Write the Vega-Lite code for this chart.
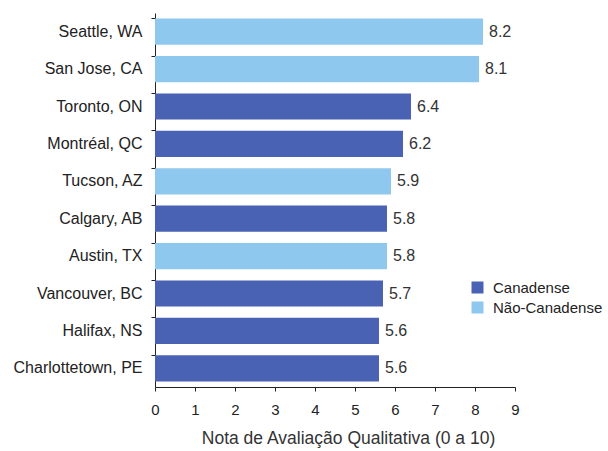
{
  "$schema": "https://vega.github.io/schema/vega-lite/v6.json",
  "width": 360,
  "height": 374,
  "autosize": {"type": "none"},
  "padding": {"left": 155, "top": 13, "right": 93, "bottom": 64},
  "background": "white",
  "config": {
    "view": {"stroke": null},
    "font": "Liberation Sans",
    "axis": {"labelFont": "Liberation Sans", "titleFont": "Liberation Sans", "labelColor": "#222", "titleColor": "#333", "domainColor": "#222", "tickColor": "#222", "grid": false},
    "legend": {"labelFont": "Liberation Sans"}
  },
  "data": {
    "values": [
      {"cidade": "Seattle, WA", "nota": 8.2, "tipo": "Não-Canadense"},
      {"cidade": "San Jose, CA", "nota": 8.1, "tipo": "Não-Canadense"},
      {"cidade": "Toronto, ON", "nota": 6.4, "tipo": "Canadense"},
      {"cidade": "Montréal, QC", "nota": 6.2, "tipo": "Canadense"},
      {"cidade": "Tucson, AZ", "nota": 5.9, "tipo": "Não-Canadense"},
      {"cidade": "Calgary, AB", "nota": 5.8, "tipo": "Canadense"},
      {"cidade": "Austin, TX", "nota": 5.8, "tipo": "Não-Canadense"},
      {"cidade": "Vancouver, BC", "nota": 5.7, "tipo": "Canadense"},
      {"cidade": "Halifax, NS", "nota": 5.6, "tipo": "Canadense"},
      {"cidade": "Charlottetown, PE", "nota": 5.6, "tipo": "Canadense"}
    ]
  },
  "encoding": {
    "y": {
      "field": "cidade", "type": "nominal", "sort": null,
      "scale": {"paddingInner": 0.3, "paddingOuter": 0.15},
      "axis": {"title": null, "labelFontSize": 16, "labelPadding": 9, "tickSize": 4, "bandPosition": 0, "labelColor": "#222"}
    },
    "x": {
      "field": "nota", "type": "quantitative",
      "scale": {"domain": [0, 9], "nice": false},
      "axis": {"title": "Nota de Avaliação Qualitativa (0 a 10)", "titleFontSize": 17.5, "titleFontWeight": "normal", "titlePadding": 12, "titleX": 193, "labelFontSize": 15, "labelPadding": 11, "values": [0,1,2,3,4,5,6,7,8,9], "labelOverlap": false, "labelFlush": false, "tickSize": 4}
    }
  },
  "layer": [
    {
      "mark": {"type": "bar"},
      "encoding": {
        "color": {
          "field": "tipo", "type": "nominal",
          "scale": {"domain": ["Canadense", "Não-Canadense"], "range": ["#4a62b4", "#8fc8ee"]},
          "legend": {"title": null, "orient": "none", "legendX": 315, "legendY": 267, "symbolType": "square", "symbolSize": 144, "symbolStrokeWidth": 0, "labelFontSize": 15, "labelColor": "#222", "rowPadding": 4, "labelOffset": 8}
        }
      }
    },
    {
      "mark": {"type": "text", "align": "left", "dx": 6, "fontSize": 16, "color": "#333"},
      "encoding": {
        "text": {"field": "nota", "type": "quantitative", "format": ".1f"}
      }
    }
  ]
}
